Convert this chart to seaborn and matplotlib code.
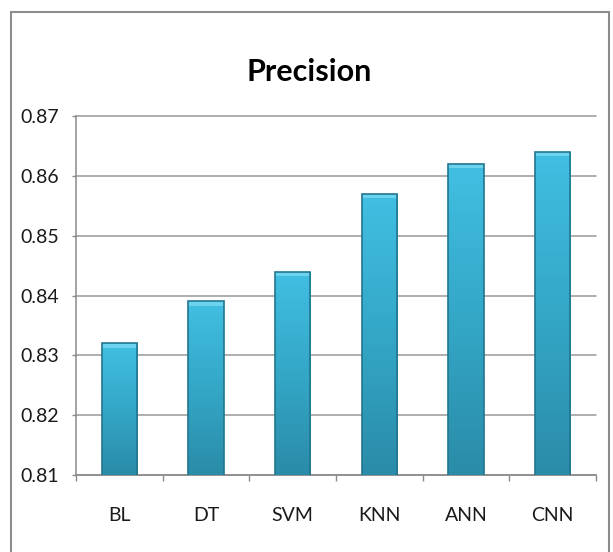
import numpy as np
import pandas as pd
import matplotlib
matplotlib.use("Agg")
import matplotlib.pyplot as plt
from matplotlib.patches import Rectangle
from matplotlib.colors import LinearSegmentedColormap
import seaborn as sns

# Precision scores per model
models = ["BL", "DT", "SVM", "KNN", "ANN", "CNN"]
precision = [0.832, 0.839, 0.844, 0.857, 0.862, 0.864]
y_ticks = [0.81, 0.82, 0.83, 0.84, 0.85, 0.86, 0.87]

sns.set_theme(style="white")
plt.rcParams["font.family"] = ["Lato", "DejaVu Sans"]

df = pd.DataFrame({"model": models, "precision": precision})

fig = plt.figure(figsize=(6.13, 5.52), dpi=100)
ax = fig.add_axes([76 / 613, 1 - 475 / 552, (596 - 76) / 613, (475 - 116) / 552])

sns.barplot(data=df, x="model", y="precision", ax=ax, width=0.41,
            color="#36aacb", saturation=1, zorder=3)

ax.set_ylim(0.81, 0.87)
ax.set_xlim(-0.5, len(models) - 0.5)

# Vertical gradient fill for each bar, with a lighter bevel on top
cmap = LinearSegmentedColormap.from_list("bar", ["#2a8ca8", "#34a7c7", "#41bfe2"])
grad = np.linspace(0, 1, 256).reshape(-1, 1)
bevel = 0.0007
for patch in ax.patches:
    x0, y0 = patch.get_x(), patch.get_y()
    w, h = patch.get_width(), patch.get_height()
    ytop = y0 + h
    img = ax.imshow(grad, extent=[x0, x0 + w, 0.81, ytop], origin="lower",
                    aspect="auto", cmap=cmap, zorder=3.5)
    img.set_clip_path(patch)
    patch.set_facecolor("none")
    patch.set_edgecolor("#22768f")
    patch.set_linewidth(1.2)
    patch.set_zorder(4)
    ax.add_patch(Rectangle((x0, ytop - bevel), w, bevel, facecolor="#6cd3ee",
                           edgecolor="none", zorder=3.8))
ax.set_xlim(-0.5, len(models) - 0.5)
ax.set_ylim(0.81, 0.87)

# Axis styling
ax.set_yticks(y_ticks)
ax.set_yticklabels([f"{v:.2f}" for v in y_ticks])
ax.yaxis.grid(True, color="#999999", linewidth=1.1, zorder=0)
for gl in ax.get_ygridlines():
    gl.set_clip_on(False)
ax.xaxis.grid(False)
for side in ["top", "right"]:
    ax.spines[side].set_visible(False)
for side in ["left", "bottom"]:
    ax.spines[side].set_color("#8a8a8a")
    ax.spines[side].set_linewidth(1.1)

ax.tick_params(axis="y", which="major", left=True, length=3, width=1,
               color="#8a8a8a", labelsize=14, pad=9, labelcolor="#1a1a1a")
ax.set_xticks(np.arange(len(models) + 1) - 0.5, minor=True)
ax.tick_params(axis="x", which="minor", bottom=True, length=4, width=1,
               color="#8a8a8a")
ax.tick_params(axis="x", which="major", bottom=False, length=0, labelsize=14,
               pad=23, labelcolor="#1a1a1a")
ax.set_xlabel("")
ax.set_ylabel("")

fig.text(309 / 613, 1 - 72 / 552, "Precision", ha="center", va="center",
         fontsize=22, fontweight="bold", color="#000000")

# Chart frame
frame = Rectangle((11 / 613, -0.1), (609 - 11) / 613, 0.1 + (1 - 12 / 552),
                  transform=fig.transFigure, fill=False, edgecolor="#8c8c8c",
                  linewidth=1.5, clip_on=False)
fig.patches.append(frame)

fig.savefig("out.png", dpi=100)
